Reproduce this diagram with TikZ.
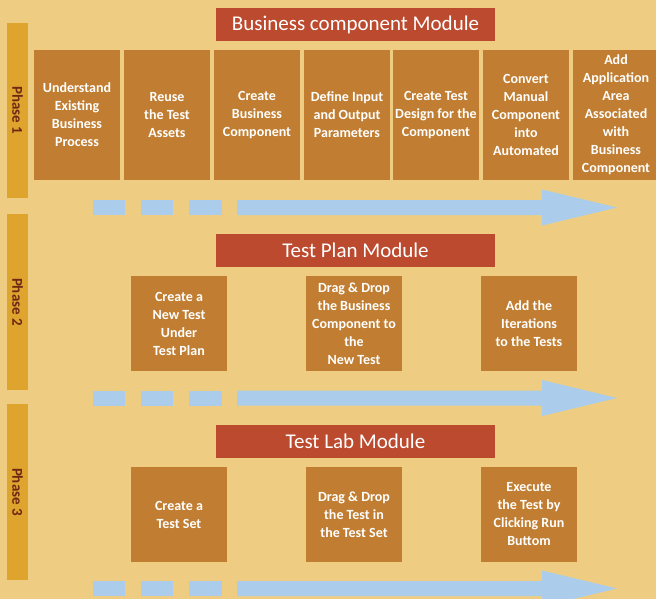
\documentclass[tikz,border=0pt]{standalone}
\usepackage{fontspec}
\setmainfont{Carlito}
\definecolor{bg}{RGB}{238,205,130}
\definecolor{boxc}{RGB}{193,126,50}
\definecolor{headc}{RGB}{187,74,47}
\definecolor{phasec}{RGB}{222,164,46}
\definecolor{phtxt}{RGB}{110,40,20}
\definecolor{arrc}{RGB}{171,205,235}
\tikzset{
  stepbox/.style={fill=boxc, draw=none, text=white, font=\fontsize{14}{18}\selectfont\bfseries, align=center, inner sep=0pt, minimum width=86pt},
  wbox/.style={stepbox, minimum width=96pt, minimum height=95pt},
  header/.style={fill=headc, draw=none, text=white, font=\fontsize{21}{25}\selectfont, inner sep=0pt, minimum width=279pt, minimum height=33pt},
  phasebar/.style={fill=phasec, draw=none, inner sep=0pt, minimum width=21pt},
  phasetext/.style={text=phtxt, font=\fontsize{15}{18}\selectfont\bfseries, rotate=-90},
  flow/.style={fill=arrc, draw=none}
}
\newcommand{\flowarrow}[1]{%
  \fill[flow] (93,#1-7.5) rectangle (125,#1+7.5);
  \fill[flow] (141,#1-7.5) rectangle (173,#1+7.5);
  \fill[flow] (189,#1-7.5) rectangle (222,#1+7.5);
  \fill[flow] (237,#1-7.5) -- (542,#1-7.5) -- (542,#1-18) -- (617,#1) -- (542,#1+18) -- (542,#1+7.5) -- (237,#1+7.5) -- cycle;
}
\begin{document}
\begin{tikzpicture}[x=1pt,y=-1pt]
\useasboundingbox (0,0) rectangle (656,599);
\fill[bg] (0,0) rectangle (656,599);

% phase bars
\node[phasebar, minimum height=175pt] (p1) at (17.5,110.5) {};
\node[phasebar, minimum height=176pt] (p2) at (17.5,302) {};
\node[phasebar, minimum height=176pt] (p3) at (17.5,492) {};
\node[phasetext] (p1t) at (p1.center) {Phase 1};
\node[phasetext] (p2t) at (p2.center) {Phase 2};
\node[phasetext] (p3t) at (p3.center) {Phase 3};

% headers
\node[header] (h1) at (355.5,24.5) {Business component Module};
\node[header] (h2) at (355.5,250.5) {Test Plan Module};
\node[header] (h3) at (355.5,441.5) {Test Lab Module};

% phase 1 boxes
\node[stepbox, minimum height=130pt] (a1) at (77,115) {Understand\\Existing\\Business\\Process};
\node[stepbox, minimum height=130pt] (a2) at (167,115) {Reuse\\the Test\\Assets};
\node[stepbox, minimum height=130pt] (a3) at (257,115) {Create\\Business\\Component};
\node[stepbox, minimum height=130pt] (a4) at (347,115) {Define Input\\and Output\\Parameters};
\node[stepbox, minimum height=130pt] (a5) at (436,115) {Create Test\\Design for the\\Component};
\node[stepbox, minimum height=130pt] (a6) at (526,115) {Convert\\Manual\\Component\\into\\Automated};
\node[stepbox, minimum height=130pt] (a7) at (616,115) {Add\\Application\\Area\\Associated\\with\\Business\\Component};

% phase 2 boxes
\node[wbox] (b1) at (179,323.5) {Create a\\New Test\\Under\\Test Plan};
\node[wbox] (b2) at (354,323.5) {Drag \& Drop\\the Business\\Component to\\the\\New Test};
\node[wbox] (b3) at (529,323.5) {Add the\\Iterations\\to the Tests};

% phase 3 boxes
\node[wbox] (c1) at (179,514.5) {Create a\\Test Set};
\node[wbox] (c2) at (354,514.5) {Drag \& Drop\\the Test in\\the Test Set};
\node[wbox] (c3) at (529,514.5) {Execute\\the Test by\\Clicking Run\\Buttom};

% flow arrows
\flowarrow{207.5}
\flowarrow{398}
\flowarrow{588.5}
\end{tikzpicture}
\end{document}
